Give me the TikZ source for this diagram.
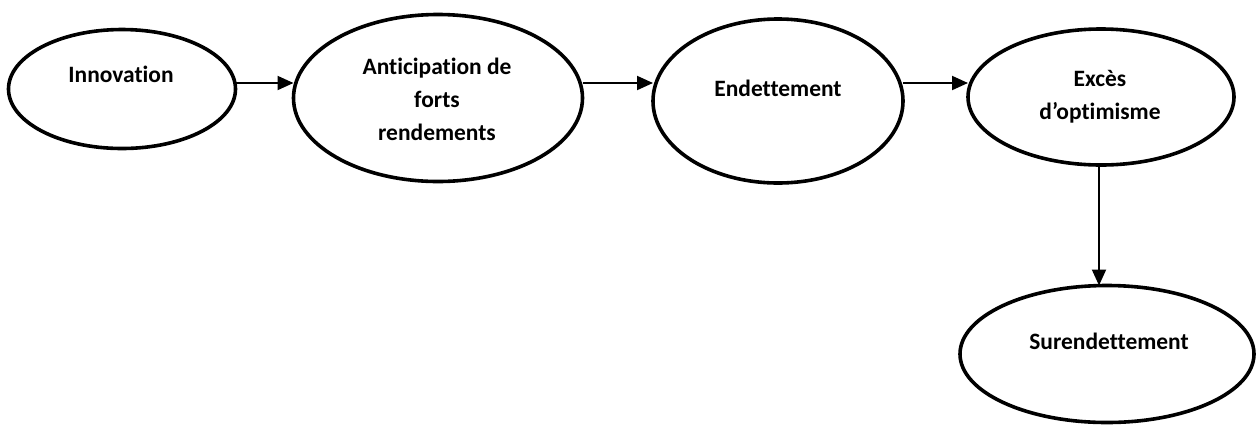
\documentclass[tikz,border=0pt]{standalone}
\usepackage{fontspec}
\setmainfont[RawFeature=-liga]{Carlito}
\usetikzlibrary{shapes.geometric,arrows.meta}
\begin{document}
\begin{tikzpicture}[x=0.75pt,y=-0.75pt,
  oval/.style={draw=black,line width=2.7pt,shape=ellipse,inner sep=0pt,outer sep=0pt},
  lbl/.style={font=\fontsize{17.6}{24.4}\selectfont\bfseries,inner sep=0pt,align=center,anchor=base},
  conn/.style={line width=1.5pt,-{Triangle[length=12pt,width=10.5pt]}}]
\useasboundingbox (0,0) rectangle (1260,426);
\node[oval,minimum width=170.25pt,minimum height=89.25pt] (inn) at (122,89) {};
\node[oval,minimum width=216.75pt,minimum height=125.25pt] (ant) at (438,98) {};
\node[oval,minimum width=187.5pt,minimum height=123pt] (end) at (778,101) {};
\node[oval,minimum width=199.5pt,minimum height=102pt] (exc) at (1101,97) {};
\node[oval,minimum width=220.5pt,minimum height=102.75pt] (sur) at (1107,354) {};
\node[lbl] (tinn) at (121,82) {Innovation};
\node[lbl] (tant) at (437,140) {Anticipation de\\forts\\rendements};
\node[lbl] (tend) at (778,96) {Endettement};
\node[lbl] (texc) at (1100,119) {Excès\\d’optimisme};
\node[lbl] (tsur) at (1109,349) {Surendettement};
\coordinate (row) at (0,83);
\coordinate (col) at (1099,0);
\draw[conn] (inn.east |- row) -- (ant.west |- row);
\draw[conn] (ant.east |- row) -- (end.west |- row);
\draw[conn] (end.east |- row) -- (exc.west |- row);
\draw[conn] (col |- exc.south) -- (col |- sur.north);
\end{tikzpicture}
\end{document}
